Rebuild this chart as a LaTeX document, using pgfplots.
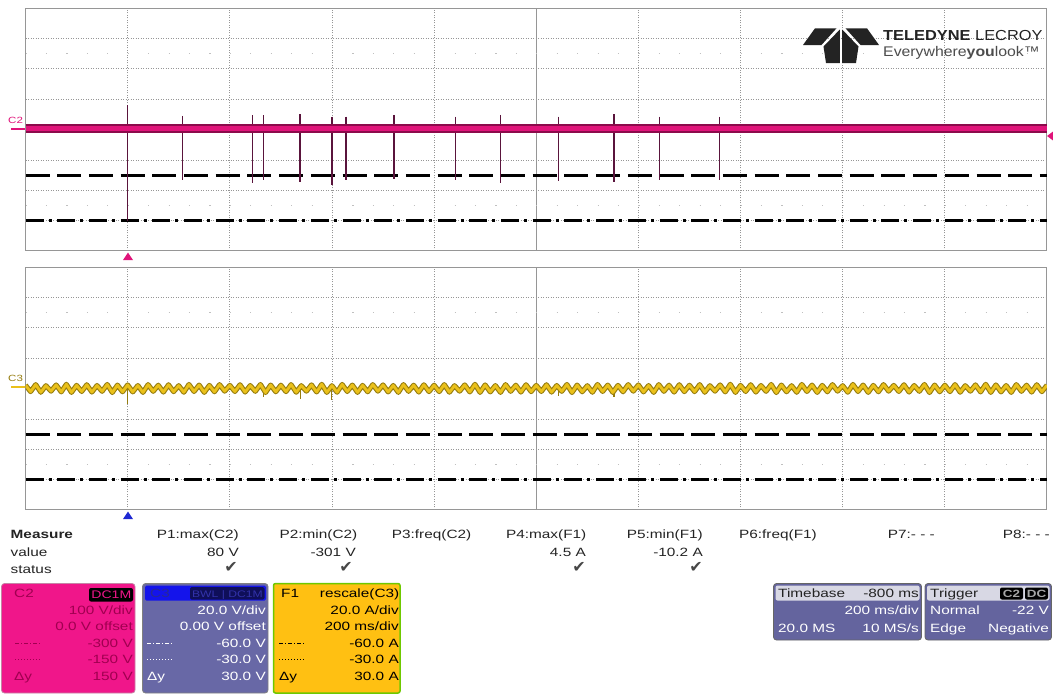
\documentclass[border=0pt]{standalone}
\usepackage{fontspec}
\setmainfont{Liberation Sans}[FakeStretch=1.28]
\newfontfamily\logofont{Liberation Sans}[FakeStretch=1.13]
\newfontfamily\symfont{DejaVu Sans}
\usepackage{pgfplots}
\usepackage{pgfplotstable}
\pgfplotsset{compat=1.18}

\definecolor{c2pink}{RGB}{224,20,122}
\definecolor{c2dark}{RGB}{140,10,75}
\definecolor{spikec}{RGB}{90,20,60}
\definecolor{c3gold}{RGB}{234,192,26}
\definecolor{c3dark}{RGB}{150,125,15}
\definecolor{gridc}{RGB}{150,150,150}
\definecolor{framec}{RGB}{150,150,150}
\definecolor{txt}{RGB}{35,35,35}
\definecolor{c2box}{RGB}{240,22,138}
\definecolor{c2txt}{RGB}{160,0,80}
\definecolor{c3box}{RGB}{104,104,166}
\definecolor{c3blue}{RGB}{20,20,235}
\definecolor{c3tag}{RGB}{40,40,150}
\definecolor{c3navy}{RGB}{15,15,90}
\definecolor{c3navytxt}{RGB}{50,50,170}
\definecolor{f1box}{RGB}{255,192,18}
\definecolor{f1edge}{RGB}{110,200,0}
\definecolor{tbhead}{RGB}{216,216,228}
\definecolor{tbbody}{RGB}{100,100,158}
\definecolor{trigblue}{RGB}{30,40,210}
\definecolor{logoc}{RGB}{35,35,35}

\newcommand{\sz}{\fontsize{12}{14}\selectfont}

% C2 glitches: top and bottom of each spike (V)
\pgfplotstableread[row sep=\\]{
t v\\
0.000 80\\ 0.000 -301\\ nan nan\\
0.1076 45\\ 0.1076 -166\\ nan nan\\
0.2446 47\\ 0.2446 -176\\ nan nan\\
0.2661 47\\ 0.2661 -166\\ nan nan\\
0.338 51\\ 0.338 -173\\ nan nan\\
0.3998 42\\ 0.3998 -182\\ nan nan\\
0.428 42\\ 0.428 -166\\ nan nan\\
0.521 48\\ 0.521 -163\\ nan nan\\
0.642 42\\ 0.642 -166\\ nan nan\\
0.730 48\\ 0.730 -175\\ nan nan\\
0.8435 42\\ 0.8435 -168\\ nan nan\\
0.9525 51\\ 0.9525 -172\\ nan nan\\
1.041 42\\ 1.041 -166\\ nan nan\\
1.159 42\\ 1.159 -166\\
}\cspikes

% C3 / F1 current ripple (A)
\pgfplotstableread[row sep=\\]{
t i\\
-0.20 2.2\\ -0.19 -2.1\\ -0.18 2.6\\ -0.17 -2.5\\ -0.16 1.9\\ -0.15 -1.8\\ -0.14 2.4\\ -0.13 -2.3\\ -0.12 2.8\\ -0.11 -2.6\\
-0.10 2.1\\ -0.09 -2.0\\ -0.08 2.5\\ -0.07 -2.4\\ -0.06 2.0\\ -0.05 -1.9\\ -0.04 2.7\\ -0.03 -2.7\\ -0.02 2.3\\ -0.01 -2.2\\
0.00 2.4\\ 0.01 -2.3\\ 0.02 2.0\\ 0.03 -2.6\\ 0.04 2.6\\ 0.05 -1.9\\ 0.06 2.2\\ 0.07 -2.4\\ 0.08 2.5\\ 0.09 -2.1\\
0.10 1.9\\ 0.11 -2.5\\ 0.12 2.7\\ 0.13 -2.0\\ 0.14 2.3\\ 0.15 -2.6\\ 0.16 2.1\\ 0.17 -2.2\\ 0.18 2.6\\ 0.19 -1.8\\
0.20 2.1\\ 0.21 -2.0\\ 0.22 2.5\\ 0.23 -2.4\\ 0.24 2.0\\ 0.25 -1.9\\ 0.26 2.7\\ 0.27 -2.7\\ 0.28 2.3\\ 0.29 -2.2\\
0.30 2.2\\ 0.31 -2.1\\ 0.32 2.6\\ 0.33 -2.5\\ 0.34 1.9\\ 0.35 -1.8\\ 0.36 2.4\\ 0.37 -2.3\\ 0.38 2.8\\ 0.39 -2.6\\
0.40 1.9\\ 0.41 -2.5\\ 0.42 2.7\\ 0.43 -2.0\\ 0.44 2.3\\ 0.45 -2.6\\ 0.46 2.1\\ 0.47 -2.2\\ 0.48 2.6\\ 0.49 -1.8\\
0.50 2.4\\ 0.51 -2.3\\ 0.52 2.0\\ 0.53 -2.6\\ 0.54 2.6\\ 0.55 -1.9\\ 0.56 2.2\\ 0.57 -2.4\\ 0.58 2.5\\ 0.59 -2.1\\
0.60 2.2\\ 0.61 -2.1\\ 0.62 2.6\\ 0.63 -2.5\\ 0.64 1.9\\ 0.65 -1.8\\ 0.66 2.4\\ 0.67 -2.3\\ 0.68 2.8\\ 0.69 -2.6\\
0.70 2.4\\ 0.71 -2.3\\ 0.72 2.0\\ 0.73 -2.6\\ 0.74 2.6\\ 0.75 -1.9\\ 0.76 2.2\\ 0.77 -2.4\\ 0.78 2.5\\ 0.79 -2.1\\
0.80 2.1\\ 0.81 -2.0\\ 0.82 2.5\\ 0.83 -2.4\\ 0.84 2.0\\ 0.85 -1.9\\ 0.86 2.7\\ 0.87 -2.7\\ 0.88 2.3\\ 0.89 -2.2\\
0.90 1.9\\ 0.91 -2.5\\ 0.92 2.7\\ 0.93 -2.0\\ 0.94 2.3\\ 0.95 -2.6\\ 0.96 2.1\\ 0.97 -2.2\\ 0.98 2.6\\ 0.99 -1.8\\
1.00 2.4\\ 1.01 -2.3\\ 1.02 2.0\\ 1.03 -2.6\\ 1.04 2.6\\ 1.05 -1.9\\ 1.06 2.2\\ 1.07 -2.4\\ 1.08 2.5\\ 1.09 -2.1\\
1.10 2.2\\ 1.11 -2.1\\ 1.12 2.6\\ 1.13 -2.5\\ 1.14 1.9\\ 1.15 -1.8\\ 1.16 2.4\\ 1.17 -2.3\\ 1.18 2.8\\ 1.19 -2.6\\
1.20 2.1\\ 1.21 -2.0\\ 1.22 2.5\\ 1.23 -2.4\\ 1.24 2.0\\ 1.25 -1.9\\ 1.26 2.7\\ 1.27 -2.7\\ 1.28 2.3\\ 1.29 -2.2\\
1.30 1.9\\ 1.31 -2.5\\ 1.32 2.7\\ 1.33 -2.0\\ 1.34 2.3\\ 1.35 -2.6\\ 1.36 2.1\\ 1.37 -2.2\\ 1.38 2.6\\ 1.39 -1.8\\
1.40 1.9\\ 1.41 -2.5\\ 1.42 2.7\\ 1.43 -2.0\\ 1.44 2.3\\ 1.45 -2.6\\ 1.46 2.1\\ 1.47 -2.2\\ 1.48 2.6\\ 1.49 -1.8\\
1.50 2.1\\ 1.51 -2.0\\ 1.52 2.5\\ 1.53 -2.4\\ 1.54 2.0\\ 1.55 -1.9\\ 1.56 2.7\\ 1.57 -2.7\\ 1.58 2.3\\ 1.59 -2.2\\
1.60 2.2\\ 1.61 -2.1\\ 1.62 2.6\\ 1.63 -2.5\\ 1.64 1.9\\ 1.65 -1.8\\ 1.66 2.4\\ 1.67 -2.3\\ 1.68 2.8\\ 1.69 -2.6\\
1.70 2.4\\ 1.71 -2.3\\ 1.72 2.0\\ 1.73 -2.6\\ 1.74 2.6\\ 1.75 -1.9\\ 1.76 2.2\\ 1.77 -2.4\\ 1.78 2.5\\ 1.79 -2.1\\
1.80 2.2\\
}\cthree

\pgfplotstableread[row sep=\\]{
t i\\
0.000 0\\ 0.000 -10.2\\ nan nan\\
0.2661 0\\ 0.2661 -5.4\\ nan nan\\
0.338 0\\ 0.338 -7.0\\ nan nan\\
0.3998 0\\ 0.3998 -7.5\\ nan nan\\
0.8435 0\\ 0.8435 -5.0\\ nan nan\\
0.9525 0\\ 0.9525 -5.5\\
}\cthreespikes

\tikzset{
  cdash/.style={black, line width=3pt, dash pattern=on 24pt off 7.7pt},
  cdashdot/.style={black, line width=3pt, dash pattern=on 18pt off 5pt on 3pt off 5.7pt},
  dotrow/.style={gridc!60, line width=1.2pt, dash pattern=on 1.2pt off 19.23pt},
}
\pgfplotsset{
  scopeaxis/.style={
    scale only axis, width=1021.5pt, height=243pt, anchor=north west,
    xmin=-0.2, xmax=1.8,
    xtick={0,0.2,0.4,0.6,1.0,1.2,1.4,1.6}, extra x ticks={0.8},
    xticklabels={}, yticklabels={}, extra x tick labels={}, extra y tick labels={},
    major tick length=0pt, grid=major,
    major grid style={gridc, line width=0.7pt, dash pattern=on 1pt off 1.5pt},
    extra tick style={grid=major, major grid style={gridc, solid, line width=1pt}},
    axis line style={framec, line width=1pt},
    no markers, unbounded coords=jump,
  },
}

\begin{document}
\begin{tikzpicture}
\path[use as bounding box] (0,0) rectangle (1053pt,-696pt);

% ---- C2 voltage
\begin{axis}[scopeaxis, at={(25.5pt,-8pt)},
  ymin=-400, ymax=400, ytick={-300,-200,-100,100,200,300}, extra y ticks={0}]
\draw[dotrow] (axis cs:-0.2,250) -- (axis cs:1.8,250);
\draw[dotrow] (axis cs:-0.2,-250) -- (axis cs:1.8,-250);
\addplot[cdash] coordinates {(-0.2,-150) (1.8,-150)};
\addplot[cdashdot] coordinates {(-0.2,-300) (1.8,-300)};
\addplot[spikec, line width=1.6pt] table[x=t, y=v] {\cspikes};
\addplot[c2dark, line width=9pt] coordinates {(-0.2,3) (1.8,3)};
\addplot[c2pink, line width=5.5pt] coordinates {(-0.2,3) (1.8,3)};
\end{axis}

% ---- F1 = rescale(C3) current
\begin{axis}[scopeaxis, at={(25.5pt,-267pt)},
  ymin=-80, ymax=80, ytick={-60,-40,-20,20,40,60}, extra y ticks={0}]
\draw[dotrow] (axis cs:-0.2,50) -- (axis cs:1.8,50);
\draw[dotrow] (axis cs:-0.2,-50) -- (axis cs:1.8,-50);
\addplot[cdash] coordinates {(-0.2,-30) (1.8,-30)};
\addplot[cdashdot] coordinates {(-0.2,-60) (1.8,-60)};
\addplot[c3dark, line width=1.3pt] table[x=t, y=i] {\cthreespikes};
\addplot[c3dark, line width=5pt, line join=round] table[x=t, y=i] {\cthree};
\addplot[c3gold, line width=2.8pt, line join=round] table[x=t, y=i] {\cthree};
\end{axis}

\begin{scope}[x=1pt, y=-1pt, every node/.style={inner sep=0pt, font=\sz, text=txt}]
% channel tags and markers
\node[anchor=base west, font=\fontsize{9}{10}\selectfont, text=c2pink] at (8,123) {C2};
\draw[c2pink, line width=2pt] (11,128.5) -- (25,128.5);
\node[anchor=base west, font=\fontsize{9}{10}\selectfont, text=c3dark] at (8,381.5) {C3};
\draw[c3gold, line width=2pt] (11,387) -- (25,387);
\fill[c2pink] (1047,136) -- (1053,131.5) -- (1053,140.5) -- cycle;
\fill[c2pink] (128,252.5) -- (133,260) -- (123,260) -- cycle;
\fill[trigblue] (128,511.5) -- (133,519) -- (123,519) -- cycle;

% logo
\fill[logoc] (815,28.3) -- (836.5,28.3) -- (821.5,45) -- (803,45) -- cycle;
\fill[logoc] (867,28.3) -- (845.5,28.3) -- (860.5,45) -- (879,45) -- cycle;
\fill[logoc] (839.8,29.5) -- (839.8,63) -- (826,63) -- (823.5,46.5) -- cycle;
\fill[logoc] (842.2,29.5) -- (842.2,63) -- (856,63) -- (858.5,46.5) -- cycle;
\node[anchor=base west, font=\logofont\fontsize{14.5}{16}\selectfont, text=logoc] at (883,40) {\textbf{TELEDYNE} LECROY};
\node[anchor=base west, font=\logofont\fontsize{14}{16}\selectfont, text=black!70] at (883,56) {Everywhere\textbf{you}look™};

% measurement table
\node[anchor=base west, font=\sz\bfseries] at (10.5,538) {Measure};
\node[anchor=base west] at (10.5,556) {value};
\node[anchor=base west] at (10.5,573) {status};
\node[anchor=base east] at (239,538) {P1:max(C2)};
\node[anchor=base east] at (357.5,538) {P2:min(C2)};
\node[anchor=base east] at (471.5,538) {P3:freq(C2)};
\node[anchor=base east] at (586.5,538) {P4:max(F1)};
\node[anchor=base east] at (703,538) {P5:min(F1)};
\node[anchor=base east] at (817,538) {P6:freq(F1)};
\node[anchor=base east] at (935,538) {P7:- - -};
\node[anchor=base east] at (1050,538) {P8:- - -};
\node[anchor=base east] at (239,556) {80 V};
\node[anchor=base east] at (356,556) {-301 V};
\node[anchor=base east] at (586,556) {4.5 A};
\node[anchor=base east] at (703,556) {-10.2 A};
\foreach \cx in {231,346,579,696}
  \node[font=\symfont\fontsize{16}{17}\selectfont, text=black!72] at (\cx,567) {✔};

% C2 descriptor
\draw[fill=c2box, draw=c2dark!50, rounded corners=3pt, line width=0.8pt] (1.5,583.5) rectangle (135,693);
\node[anchor=base west, text=c2txt] at (14,597.5) {C2};
\fill[black, rounded corners=2pt] (89,588) rectangle (133,601.5);
\node[anchor=base east, text=c2box, font=\fontsize{11}{12}\selectfont] at (131.5,598.5) {DC1M};
\node[anchor=base east, text=c2txt] at (133,614) {100 V/div};
\node[anchor=base east, text=c2txt] at (133,630.5) {0.0 V offset};
\draw[c2txt, line width=1pt, dash pattern=on 4pt off 2pt on 1pt off 2pt] (15,643) -- (41,643);
\node[anchor=base east, text=c2txt] at (133,647) {-300 V};
\draw[c2txt, line width=1pt, dash pattern=on 1pt off 2pt] (15,659.5) -- (41,659.5);
\node[anchor=base east, text=c2txt] at (133,663.5) {-150 V};
\node[anchor=base west, text=c2txt] at (14,680) {Δy};
\node[anchor=base east, text=c2txt] at (133,680) {150 V};

% C3 descriptor
\draw[fill=c3box, draw=black!50, rounded corners=3pt, line width=0.8pt] (142.5,583.5) rectangle (268,693);
\fill[c3blue, rounded corners=1.5pt] (145,585.5) rectangle (266,600.5);
\node[anchor=base west, text=c3tag] at (150,597.5) {C3};
\fill[c3navy, rounded corners=1.5pt] (190,587) rectangle (264.5,599.5);
\node[anchor=base east, font=\fontsize{9.5}{11}\selectfont, text=c3navytxt] at (263,597) {BWL | DC1M};
\node[anchor=base east, text=white] at (266,614) {20.0 V/div};
\node[anchor=base east, text=white] at (266,630.5) {0.00 V offset};
\draw[white, line width=1pt, dash pattern=on 4pt off 2pt on 1pt off 2pt] (147,643) -- (173,643);
\node[anchor=base east, text=white] at (266,647) {-60.0 V};
\draw[white, line width=1pt, dash pattern=on 1pt off 2pt] (147,659.5) -- (173,659.5);
\node[anchor=base east, text=white] at (266,663.5) {-30.0 V};
\node[anchor=base west, text=white] at (147,680) {Δy};
\node[anchor=base east, text=white] at (266,680) {30.0 V};

% F1 descriptor
\draw[fill=f1box, draw=f1edge, rounded corners=2pt, line width=1.5pt] (273.5,583.5) rectangle (400,693);
\node[anchor=base west, text=black] at (281,597.5) {F1};
\node[anchor=base east, text=black] at (399.5,597.5) {rescale(C3)};
\node[anchor=base east, text=black] at (399,614) {20.0 A/div};
\node[anchor=base east, text=black] at (399,630.5) {200 ms/div};
\draw[black, line width=1pt, dash pattern=on 4pt off 2pt on 1pt off 2pt] (279,643) -- (305,643);
\node[anchor=base east, text=black] at (399,647) {-60.0 A};
\draw[black, line width=1pt, dash pattern=on 1pt off 2pt] (279,659.5) -- (305,659.5);
\node[anchor=base east, text=black] at (399,663.5) {-30.0 A};
\node[anchor=base west, text=black] at (279,680) {Δy};
\node[anchor=base east, text=black] at (399,680) {30.0 A};

% timebase
\draw[fill=tbbody, draw=black!60, rounded corners=3pt, line width=0.8pt] (773.5,583.5) rectangle (921.5,640);
\fill[tbhead, rounded corners=2pt] (775.5,585.5) rectangle (919.5,600.5);
\node[anchor=base west] at (778,597.5) {Timebase};
\node[anchor=base east] at (919,597.5) {-800 ms};
\node[anchor=base east, text=white] at (919,614) {200 ms/div};
\node[anchor=base west, text=white] at (778,632) {20.0 MS};
\node[anchor=base east, text=white] at (919,632) {10 MS/s};

% trigger
\draw[fill=tbbody, draw=black!60, rounded corners=3pt, line width=0.8pt] (925,583.5) rectangle (1051.5,640);
\fill[tbhead, rounded corners=2pt] (927,585.5) rectangle (1049.5,600.5);
\node[anchor=base west] at (930,597.5) {Trigger};
\fill[black, rounded corners=2pt] (1000,587.5) rectangle (1023,599.5);
\fill[black, rounded corners=2pt] (1025,587.5) rectangle (1048,599.5);
\node[font=\fontsize{10.5}{12}\selectfont\bfseries, text=black!35] at (1011.5,593.5) {C2};
\node[font=\fontsize{10.5}{12}\selectfont\bfseries, text=black!35] at (1036.5,593.5) {DC};
\node[anchor=base west, text=white] at (930,614) {Normal};
\node[anchor=base east, text=white] at (1049,614) {-22 V};
\node[anchor=base west, text=white] at (930,632) {Edge};
\node[anchor=base east, text=white] at (1049,632) {Negative};
\end{scope}
\end{tikzpicture}
\end{document}
